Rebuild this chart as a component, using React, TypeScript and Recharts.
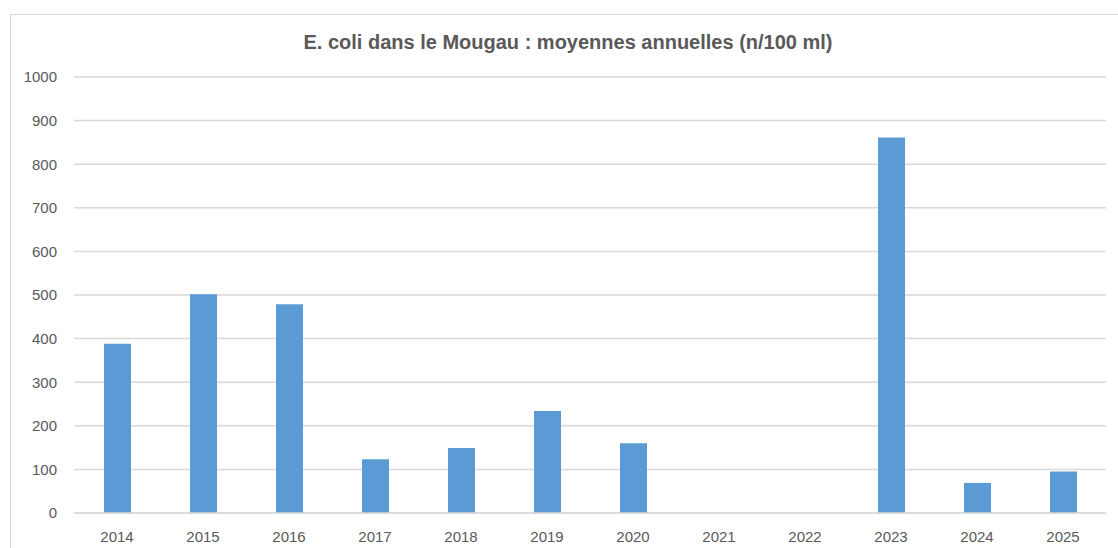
import React from "react";
import { BarChart, CartesianGrid, XAxis, YAxis, Bar } from "recharts";

const years = ["2014", "2015", "2016", "2017", "2018", "2019", "2020", "2021", "2022", "2023", "2024", "2025"];
const ecoliMeans = [388, 502, 479, 123, 149, 234, 160, 0, 0, 861, 69, 95];
const yTicks = [0, 100, 200, 300, 400, 500, 600, 700, 800, 900, 1000];

const data = years.map((y, i) => ({ year: y, value: ecoliMeans[i] }));

const font = "'Liberation Sans', 'Open Sans', sans-serif";
const textColor = "#595959";
const gridColor = "#D9D9D9";

function App() {
	return (
		<div
			style={{
				position: "absolute",
				left: 0,
				top: 0,
				width: 1118,
				height: 548,
				overflow: "hidden",
				background: "#fff",
				fontFamily: font
			}}
		>
			<div
				style={{
					position: "absolute",
					left: 10,
					top: 14,
					width: 1130,
					height: 560,
					border: "1px solid #D9D9D9"
				}}
			/>
			<div
				style={{
					position: "absolute",
					left: 0,
					top: 31,
					width: 1136,
					textAlign: "center",
					fontSize: 20,
					fontWeight: "bold",
					color: textColor
				}}
			>
				E. coli dans le Mougau : moyennes annuelles (n/100 ml)
			</div>
			<div style={{ position: "absolute", left: 0, top: 0 }}>
				<BarChart
					width={1118}
					height={548}
					data={data}
					margin={{ top: 77, right: 12, left: 0, bottom: 0 }}
					barCategoryGap={0}
				>
					<CartesianGrid horizontal vertical={false} stroke={gridColor} strokeWidth={1.5} />
					<XAxis
						dataKey="year"
						axisLine={{ stroke: gridColor, strokeWidth: 1.5 }}
						tickLine={false}
						tickMargin={12}
						height={35}
						tick={{ fill: textColor, fontSize: 15, fontFamily: font }}
					/>
					<YAxis
						domain={[0, 1000]}
						ticks={yTicks}
						interval={0}
						axisLine={false}
						tickLine={false}
						tickMargin={11}
						width={74}
						tick={{ fill: textColor, fontSize: 15, fontFamily: font }}
					/>
					<Bar dataKey="value" fill="#5B9BD5" barSize={27} isAnimationActive={false} />
				</BarChart>
			</div>
		</div>
	);
}

export default App;
